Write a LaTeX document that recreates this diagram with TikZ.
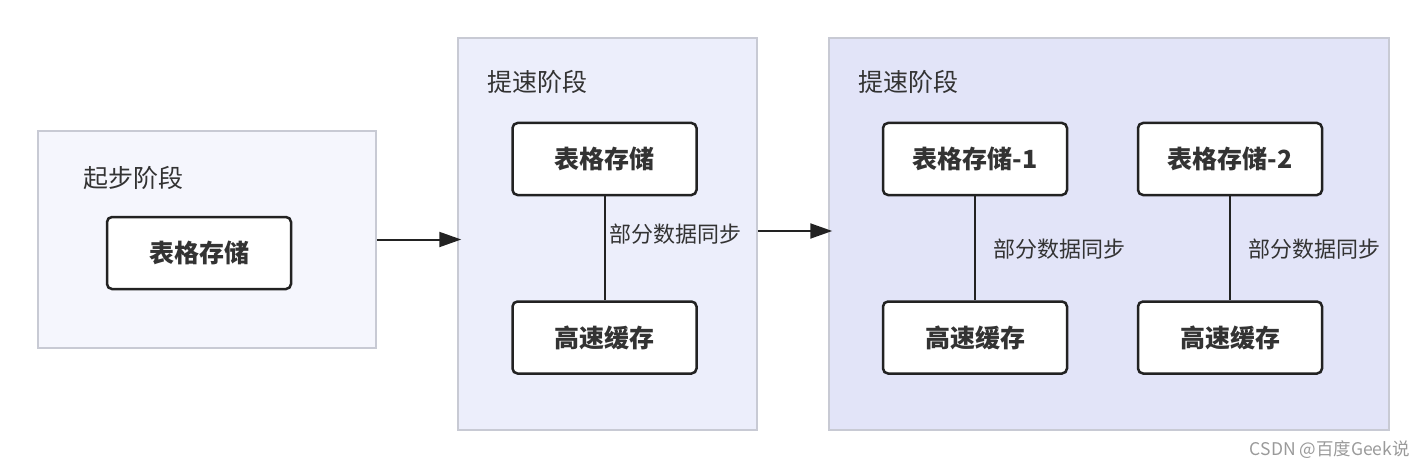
\documentclass[tikz,border=0pt]{standalone}
\usepackage{fontspec}
\setmainfont{Noto Sans CJK SC}
\usetikzlibrary{arrows.meta, positioning}

\definecolor{groupline}{HTML}{C8CAD4}
\definecolor{boxline}{HTML}{222222}
\definecolor{textgray}{HTML}{333333}
\definecolor{markgray}{HTML}{9A9A9A}
\definecolor{startfill}{HTML}{F5F6FD}
\definecolor{speedfill}{HTML}{ECEEFB}
\definecolor{splitfill}{HTML}{E2E4F8}

\begin{document}
\begin{tikzpicture}[
    x=1pt, y=-1pt,
    every node/.style={font=\fontsize{25}{30}\selectfont, text=textgray},
    group/.style={rectangle, draw=groupline, line width=1.5pt, inner sep=0pt},
    store/.style={rectangle, draw=boxline, fill=white, line width=2.5pt, rounded corners=5pt, minimum width=184pt, minimum height=72pt, font=\fontsize{25}{30}\selectfont\bfseries},
    title/.style={anchor=west, inner sep=0pt},
    sync/.style={anchor=west, inner sep=0pt, font=\fontsize{22}{26}\selectfont},
    link/.style={line width=2pt, draw=boxline},
    arrow/.style={-{Triangle[length=22pt, width=15pt]}, line width=2pt, draw=boxline, shorten >=-4pt}
]
\useasboundingbox (0,0) rectangle (1426,468);

% Groups
\node[group, fill=startfill, minimum width=338pt, minimum height=217pt] (g1) at (207,239.5) {};
\node[group, fill=speedfill, minimum width=299pt, minimum height=392pt] (g2) at (607.5,234) {};
\node[group, fill=splitfill, minimum width=560pt, minimum height=392pt] (g3) at (1109,234) {};

\node[title] (g1title) at (83,178) {起步阶段};
\node[title] (g2title) at (487,82) {提速阶段};
\node[title] (g3title) at (858,82) {提速阶段};

% Nodes
\node[store] (s1) at (199,253) {表格存储};

\node[store] (s2) at (604.5,159) {表格存储};
\node[store, below=104pt of s2] (c2) {高速缓存};

\node[store] (s3a) at (975,159) {表格存储-1};
\node[store, below=104pt of s3a] (c3a) {高速缓存};
\node[store] (s3b) at (1230,159) {表格存储-2};
\node[store, below=104pt of s3b] (c3b) {高速缓存};

% Links
\draw[link] (s2) -- node[sync, pos=0.36, xshift=4pt] {部分数据同步} (c2);
\draw[link] (s3a) -- node[sync, pos=0.51, xshift=17pt] {部分数据同步} (c3a);
\draw[link] (s3b) -- node[sync, pos=0.51, xshift=17pt] {部分数据同步} (c3b);

% Arrows
\draw[arrow] (g1.east) -- (g1.east -| g2.west);
\draw[arrow] ([yshift=3pt]g2.east) -- ([yshift=3pt]g3.west);

\node[anchor=east, inner sep=0pt, text=markgray, font=\fontsize{17.5}{20}\selectfont] (mark) at (1410,450) {CSDN @百度Geek说};
\end{tikzpicture}
\end{document}
